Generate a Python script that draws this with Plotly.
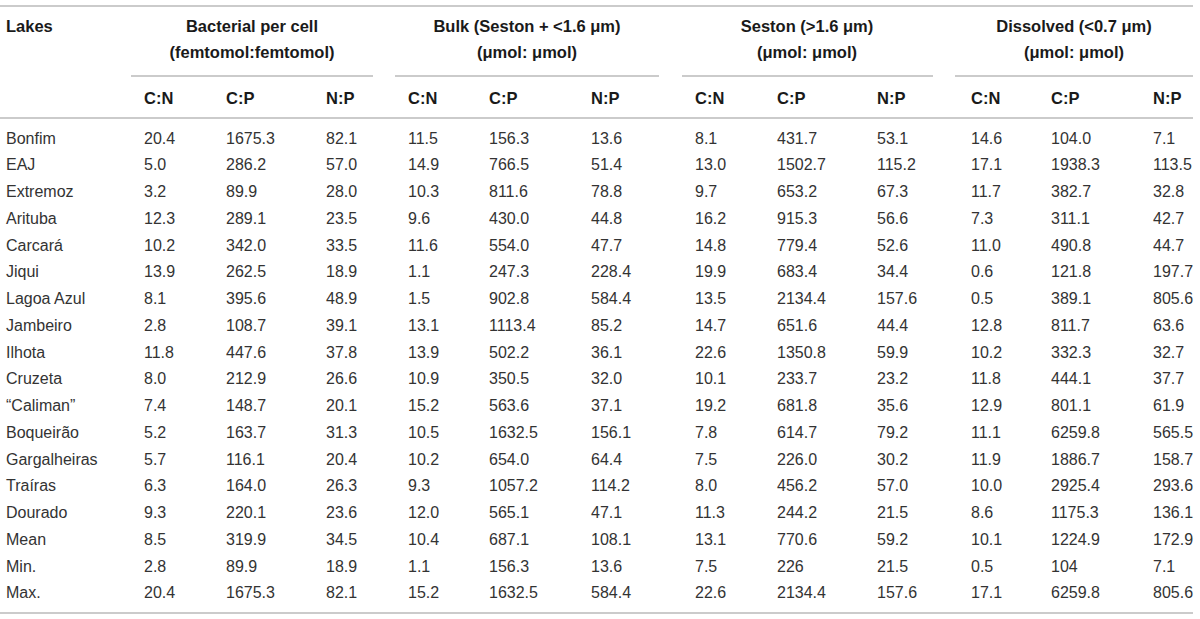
import plotly.graph_objects as go

# ---------------- data ----------------
lakes = ["Bonfim", "EAJ", "Extremoz", "Arituba", "Carcará", "Jiqui", "Lagoa Azul",
         "Jambeiro", "Ilhota", "Cruzeta", "“Caliman”", "Boqueirão", "Gargalheiras",
         "Traíras", "Dourado", "Mean", "Min.", "Max."]

group_titles = ["Bacterial per cell", "Bulk (Seston + &lt;1.6 μm)",
                "Seston (&gt;1.6 μm)", "Dissolved (&lt;0.7 μm)"]
group_units = ["(femtomol:femtomol)", "(μmol: μmol)", "(μmol: μmol)", "(μmol: μmol)"]
ratio_labels = ["C:N", "C:P", "N:P"]

bact_cn = ["20.4", "5.0", "3.2", "12.3", "10.2", "13.9", "8.1", "2.8", "11.8", "8.0",
           "7.4", "5.2", "5.7", "6.3", "9.3", "8.5", "2.8", "20.4"]
bact_cp = ["1675.3", "286.2", "89.9", "289.1", "342.0", "262.5", "395.6", "108.7", "447.6",
           "212.9", "148.7", "163.7", "116.1", "164.0", "220.1", "319.9", "89.9", "1675.3"]
bact_np = ["82.1", "57.0", "28.0", "23.5", "33.5", "18.9", "48.9", "39.1", "37.8", "26.6",
           "20.1", "31.3", "20.4", "26.3", "23.6", "34.5", "18.9", "82.1"]

bulk_cn = ["11.5", "14.9", "10.3", "9.6", "11.6", "1.1", "1.5", "13.1", "13.9", "10.9",
           "15.2", "10.5", "10.2", "9.3", "12.0", "10.4", "1.1", "15.2"]
bulk_cp = ["156.3", "766.5", "811.6", "430.0", "554.0", "247.3", "902.8", "1113.4", "502.2",
           "350.5", "563.6", "1632.5", "654.0", "1057.2", "565.1", "687.1", "156.3", "1632.5"]
bulk_np = ["13.6", "51.4", "78.8", "44.8", "47.7", "228.4", "584.4", "85.2", "36.1", "32.0",
           "37.1", "156.1", "64.4", "114.2", "47.1", "108.1", "13.6", "584.4"]

seston_cn = ["8.1", "13.0", "9.7", "16.2", "14.8", "19.9", "13.5", "14.7", "22.6", "10.1",
             "19.2", "7.8", "7.5", "8.0", "11.3", "13.1", "7.5", "22.6"]
seston_cp = ["431.7", "1502.7", "653.2", "915.3", "779.4", "683.4", "2134.4", "651.6", "1350.8",
             "233.7", "681.8", "614.7", "226.0", "456.2", "244.2", "770.6", "226", "2134.4"]
seston_np = ["53.1", "115.2", "67.3", "56.6", "52.6", "34.4", "157.6", "44.4", "59.9", "23.2",
             "35.6", "79.2", "30.2", "57.0", "21.5", "59.2", "21.5", "157.6"]

diss_cn = ["14.6", "17.1", "11.7", "7.3", "11.0", "0.6", "0.5", "12.8", "10.2", "11.8",
           "12.9", "11.1", "11.9", "10.0", "8.6", "10.1", "0.5", "17.1"]
diss_cp = ["104.0", "1938.3", "382.7", "311.1", "490.8", "121.8", "389.1", "811.7", "332.3",
           "444.1", "801.1", "6259.8", "1886.7", "2925.4", "1175.3", "1224.9", "104", "6259.8"]
diss_np = ["7.1", "113.5", "32.8", "42.7", "44.7", "197.7", "805.6", "63.6", "32.7", "37.7",
           "61.9", "565.5", "158.7", "293.6", "136.1", "172.9", "7.1", "805.6"]

groups = [[bact_cn, bact_cp, bact_np],
          [bulk_cn, bulk_cp, bulk_np],
          [seston_cn, seston_cp, seston_np],
          [diss_cn, diss_cp, diss_np]]

# ---------------- layout constants (pixel-like units) ----------------
W, H = 1200, 619
LAKE_X = 6
COL_X = [[144, 226, 326], [408, 489, 591], [695, 777, 877], [971, 1051, 1153]]
GROUP_CX = [252, 527, 807, 1074]
GROUP_LINE = [(131, 373), (395, 659), (682, 933), (955, 1193)]
Y_TITLE, Y_UNIT, Y_GLINE, Y_SUB, Y_HLINE = 27.5, 54, 76, 100, 118
ROW_Y0, ROW_DY = 139.5, 26.75
Y_TOP, Y_BOTTOM = 6, 613
LINE_COLOR = "#cbcbcb"
TXT_COLOR = "#333333"
HEAD_COLOR = "#1a1a1a"
FONT = "Liberation Sans, Arial, Helvetica, sans-serif"
DATA_SIZE = 16
HEAD_SIZE = 16.5

row_y = [ROW_Y0 + i * ROW_DY for i in range(len(lakes))]

fig = go.Figure()

def text_trace(xs, ys, texts, pos, color, size, bold=False):
    fig.add_trace(go.Scatter(
        x=xs, y=ys, text=texts, mode="text", textposition=pos,
        textfont=dict(family=FONT, size=size, color=color,
                      weight="bold" if bold else "normal"),
        hoverinfo="skip", showlegend=False, cliponaxis=False))

# Lakes column
text_trace([LAKE_X], [Y_TITLE], ["Lakes"], "middle right", HEAD_COLOR, HEAD_SIZE, True)
text_trace([LAKE_X] * len(lakes), row_y, lakes, "middle right", TXT_COLOR, DATA_SIZE)

# Group headers
text_trace(GROUP_CX, [Y_TITLE] * 4, group_titles, "middle center", HEAD_COLOR, HEAD_SIZE, True)
text_trace(GROUP_CX, [Y_UNIT] * 4, group_units, "middle center", HEAD_COLOR, HEAD_SIZE, True)

# Sub-headers and data
for gi, cols in enumerate(groups):
    for ci, col in enumerate(cols):
        x = COL_X[gi][ci]
        text_trace([x], [Y_SUB], [ratio_labels[ci]], "middle right", HEAD_COLOR, HEAD_SIZE, True)
        text_trace([x] * len(col), row_y, col, "middle right", TXT_COLOR, DATA_SIZE)

# Rules
shapes = []
for y in (Y_TOP, Y_HLINE, Y_BOTTOM):
    shapes.append(dict(type="line", xref="x", yref="y", x0=0, x1=1193, y0=y, y1=y,
                       line=dict(color=LINE_COLOR, width=2)))
for x0, x1 in GROUP_LINE:
    shapes.append(dict(type="line", xref="x", yref="y", x0=x0, x1=x1, y0=Y_GLINE, y1=Y_GLINE,
                       line=dict(color=LINE_COLOR, width=2)))

fig.update_layout(
    width=W, height=H, margin=dict(l=0, r=0, t=0, b=0),
    paper_bgcolor="white", plot_bgcolor="white",
    xaxis=dict(range=[0, W], visible=False, fixedrange=True),
    yaxis=dict(range=[H, 0], visible=False, fixedrange=True),
    shapes=shapes, showlegend=False, hovermode=False,
)

fig.write_html("out.html", config={"displayModeBar": False},
               post_script="document.body.style.margin='0';document.body.style.overflow='hidden';")
